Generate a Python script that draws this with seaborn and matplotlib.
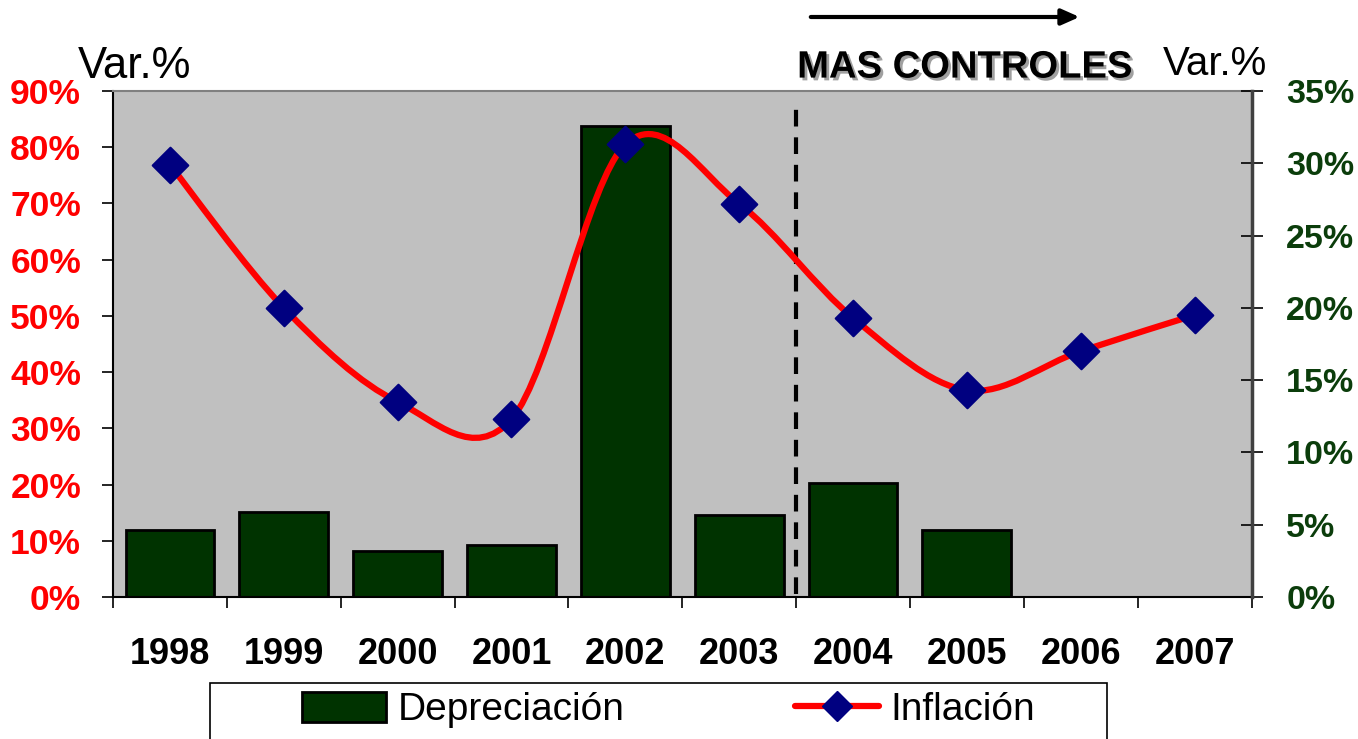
import matplotlib
matplotlib.use('Agg')
import matplotlib.pyplot as plt
import matplotlib.patheffects as pe
from matplotlib.path import Path
from matplotlib.patches import PathPatch, Patch, Rectangle
from matplotlib.lines import Line2D
import numpy as np
import pandas as pd
import seaborn as sns

# data
years = ['1998', '1999', '2000', '2001', '2002', '2003', '2004', '2005', '2006', '2007']
depreciacion = [11.9, 15.1, 8.2, 9.2, 83.8, 14.6, 20.3, 11.9, np.nan, np.nan]
inflacion = [29.9, 20.0, 13.5, 12.3, 31.3, 27.2, 19.3, 14.3, 17.0, 19.5]
left_ticks = [0, 10, 20, 30, 40, 50, 60, 70, 80, 90]
right_ticks = [0, 5, 10, 15, 20, 25, 30, 35]

sns.set_theme(style='white')
plt.rcParams['font.family'] = ['Liberation Sans', 'DejaVu Sans']
plt.rcParams['text.color'] = 'black'

df = pd.DataFrame({'year': years, 'dep': depreciacion, 'inf': inflacion})

fig = plt.figure(figsize=(13.58, 7.39), dpi=100)
ax = fig.add_axes([0.0832, 0.1922, 0.8384, 0.6847])
ax.set_facecolor('#C0C0C0')

sns.barplot(data=df, x='year', y='dep', color='#003300', width=0.78,
            edgecolor='black', linewidth=2, saturation=1, ax=ax)
ax.set_ylim(0, 90)
ax.set_xlim(-0.5, 9.5)
ax.set_yticks(left_ticks)
ax.set_yticklabels([f'{t}%' for t in left_ticks], color='#FF0000',
                   fontweight='bold', fontsize=25.5)
ax.tick_params(axis='y', direction='out', length=8, width=1.2, color='black', pad=15, left=True)
ax.set_xticks(range(len(years)))
ax.set_xticklabels(years, fontweight='bold', fontsize=26, color='black')
ax.tick_params(axis='x', length=0, pad=29)
ax.set_xticks(np.arange(-0.5, 10, 1), minor=True)
ax.tick_params(axis='x', which='minor', direction='out', length=8, width=1.2,
               color='black', bottom=True)
ax.set_xlabel('')
ax.set_ylabel('')
for s in ['top', 'right']:
    ax.spines[s].set_color('#808080')
for s in ['left', 'bottom']:
    ax.spines[s].set_color('black')
for s in ax.spines.values():
    s.set_linewidth(1.5)

# dashed separator between 2003 and 2004
ax.plot([5.5, 5.5], [0.5, 88.5], color='black', lw=3, ls=(0, (4, 2.6)), zorder=3)

ax2 = ax.twinx()
ax2.set_ylim(0, 35)
ax2.set_yticks(right_ticks)
ax2.set_yticklabels([f'{t}%' for t in right_ticks], color='#0B3D0B',
                    fontweight='bold', fontsize=24.5)
ax2.tick_params(axis='y', direction='inout', length=16, width=1.2, color='black', pad=17, right=True)
ax2.spines['right'].set_color('#404040')
ax2.spines['right'].set_linewidth(2.5)
for s in ['top', 'left', 'bottom']:
    ax2.spines[s].set_visible(False)
ax2.grid(False)

# smoothed line (Catmull-Rom style bezier through the points)
xs = np.arange(len(years), dtype=float)
ys = np.array(inflacion, dtype=float)
px = np.concatenate([[xs[0]], xs, [xs[-1]]])
py = np.concatenate([[ys[0]], ys, [ys[-1]]])
verts = [(xs[0], ys[0])]
codes = [Path.MOVETO]
for i in range(1, len(px) - 2):
    c1 = (px[i] + (px[i + 1] - px[i - 1]) / 6, py[i] + (py[i + 1] - py[i - 1]) / 6)
    c2 = (px[i + 1] - (px[i + 2] - px[i]) / 6, py[i + 1] - (py[i + 2] - py[i]) / 6)
    verts += [c1, c2, (px[i + 1], py[i + 1])]
    codes += [Path.CURVE4] * 3
ax2.add_patch(PathPatch(Path(verts, codes), facecolor='none', edgecolor='#FF0000',
                        lw=4.5, capstyle='round', zorder=4))
sns.scatterplot(data=df, x='year', y='inf', marker='D', s=330, color='#000080',
                edgecolor='#000080', ax=ax2, zorder=5, legend=False)
ax2.set_xlim(-0.5, 9.5)
ax2.set_ylabel('')

# texts
fig.text(0.057, 0.895, 'Var.%', fontsize=31.5, color='black', ha='left', va='baseline')
fig.text(0.856, 0.898, 'Var.%', fontsize=29, color='black', ha='left', va='baseline')
fig.text(0.587, 0.895, 'MAS CONTROLES', fontsize=27.5, fontweight='bold', color='black',
         ha='left', va='baseline',
         path_effects=[pe.withSimplePatchShadow(offset=(2, -2), shadow_rgbFace='#A0A0A0', alpha=1)])
fig.add_artist(plt.Annotation('', xy=(0.797, 0.977), xytext=(0.595, 0.977),
                              xycoords='figure fraction', textcoords='figure fraction',
                              arrowprops=dict(arrowstyle='-|>,head_length=0.9,head_width=0.4',
                                              color='black', lw=3)))

# legend box, partly cut at the bottom edge
fig.add_artist(Rectangle((210 / 1358, -0.05), 897 / 1358, 1 - 683 / 739 + 0.05,
                         transform=fig.transFigure, facecolor='white',
                         edgecolor='black', lw=1.2))
handles = [Patch(facecolor='#003300', edgecolor='black', linewidth=2),
           Line2D([0], [0], color='#FF0000', lw=4.5, marker='D', markersize=15,
                  markerfacecolor='#000080', markeredgecolor='#000080')]
fig.legend(handles, ['Depreciación', 'Inflación'], ncol=2, loc='center left',
           bbox_to_anchor=(302 / 1358, 1 - 710 / 739), frameon=False,
           columnspacing=4.4, handlelength=2.15, handleheight=0.8,
           handletextpad=0.3, borderpad=0, borderaxespad=0,
           prop={'size': 28})

fig.savefig('out.png', dpi=100)
